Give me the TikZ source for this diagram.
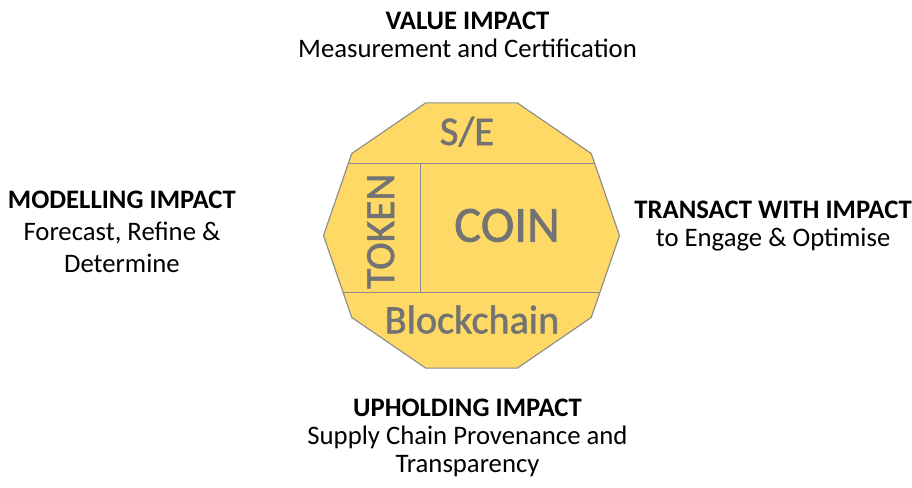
\documentclass[tikz,border=0pt]{standalone}
\usepackage{fontspec}
\setmainfont{Carlito}
\newfontfamily\coinfont[FakeBold=1.3]{Carlito}
\usetikzlibrary{calc}
\definecolor{coingold}{RGB}{255,217,102}
\definecolor{coinedge}{RGB}{140,140,140}
\definecolor{coingrey}{RGB}{115,115,115}
\tikzstyle{face} = [draw=coinedge, fill=coingold, line width=0.8pt, line join=round]
\tikzstyle{split} = [draw=coinedge, line width=0.6pt]
\tikzstyle{inside} = [text=coingrey, inner sep=0pt, anchor=base]
\tikzstyle{heading} = [align=center, inner sep=0pt, anchor=base, font=\fontsize{19}{20}\selectfont]

\begin{document}
\begin{tikzpicture}[x=0.025cm, y=0.025cm, node distance=2cm]
    \useasboundingbox (-471.5,-251.5) rectangle (440.5,235.5);
    % Coin
    \coordinate (coin) at (0,0);
    \foreach \i in {0,...,9}
        \coordinate (v\i) at (\i*36:148 and 139.5);
    \path [face] (v0) -- (v1) -- (v2) -- (v3) -- (v4) -- (v5) -- (v6) -- (v7) -- (v8) -- (v9) -- cycle;
    \coordinate (topL) at ($(v4)!0.116!(v5)$);
    \coordinate (topR) at ($(v1)!0.116!(v0)$);
    \coordinate (botL) at ($(v5)!0.689!(v6)$);
    \coordinate (botR) at ($(v0)!0.689!(v9)$);
    \coordinate (seam) at (-51.5,0);
    \path [split] (topL) -- (topR);
    \path [split] (botL) -- (botR);
    \path [split] (seam |- topL) -- (seam |- botL);
    % Coin labels
    \node [inside, font=\coinfont\fontsize{29}{29}\selectfont] (se) at (-4.5,90.5) {S/E};
    \node [inside, font=\coinfont\fontsize{29.5}{29.5}\selectfont, rotate=90] (token) at (-77.5,4.2) {TOKEN};
    \node [inside, font=\coinfont\fontsize{36}{36}\selectfont] (coinword) at (35.5,-6.2) {COIN};
    \node [inside, font=\coinfont\fontsize{28.6}{28.6}\selectfont] (chain) at (0.5,-97.8) {Blockchain};
    % Place headings
    \node [above of=coin, node distance=4.445cm, xshift=-0.1cm, heading] (value)
        {\bfseries VALUE IMPACT\\Measurement and Certification};
    \node [left of=coin, node distance=8.7375cm, yshift=-0.92cm, heading, font=\fontsize{19}{22.8}\selectfont] (model)
        {\bfseries MODELLING IMPACT\\Forecast, Refine \&\\Determine};
    \node [right of=coin, node distance=7.5375cm, yshift=-0.28cm, heading] (transact)
        {\bfseries TRANSACT WITH IMPACT\\to Engage \& Optimise};
    \node [below of=coin, node distance=5.93cm, xshift=-0.1cm, heading] (uphold)
        {\bfseries UPHOLDING IMPACT\\Supply Chain Provenance and\\Transparency};
\end{tikzpicture}
\end{document}
